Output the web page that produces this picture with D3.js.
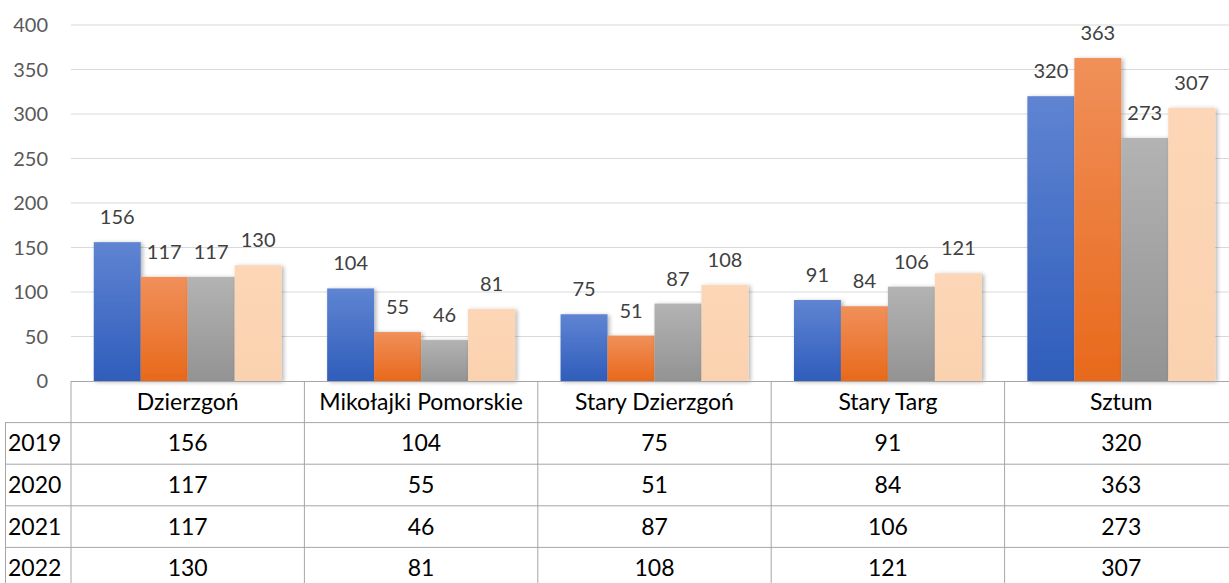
<!DOCTYPE html>
<html><head><meta charset="utf-8">
<script src="https://cdn.jsdelivr.net/npm/d3@7"></script>
<style>body{margin:0;background:#fff}svg{display:block}</style>
</head><body><svg id="c" width="1229" height="583"></svg>
<script>
const categories = ["Dzierzgoń","Mikołajki Pomorskie","Stary Dzierzgoń","Stary Targ","Sztum"];
const years = ["2019","2020","2021","2022"];
const v2019 = [156,104,75,91,320];
const v2020 = [117,55,51,84,363];
const v2021 = [117,46,87,106,273];
const v2022 = [130,81,108,121,307];
const yTicks = [0,50,100,150,200,250,300,350,400];
const series = [v2019,v2020,v2021,v2022];
const colTop = ["#5f84d2","#f0905a","#b3b3b3","#fcd6b6"];
const colBot = ["#2f5dbb","#e8691b","#939393","#fbd2b0"];

const svg = d3.select("#c");
const font = "Lato, 'Liberation Sans', sans-serif";
const pLeft = 71, pRight = 1238, pTop = 25, base = 381;
const x0 = d3.scaleBand().domain(categories).range([pLeft,pRight]).paddingInner(0.195).paddingOuter(0.0975);
const x1 = d3.scaleBand().domain(years).range([0,x0.bandwidth()]);
const y = d3.scaleLinear().domain([0,400]).range([base,pTop]);

const defs = svg.append("defs");
years.forEach((yr,i)=>{
  const g = defs.append("linearGradient").attr("id","g"+i).attr("x1",0).attr("y1",0).attr("x2",0).attr("y2",1);
  g.append("stop").attr("offset","0%").attr("stop-color",colTop[i]);
  g.append("stop").attr("offset","100%").attr("stop-color",colBot[i]);
});
const f = defs.append("filter").attr("id","sh").attr("x","-20%").attr("y","-20%").attr("width","150%").attr("height","150%");
f.append("feDropShadow").attr("dx",2).attr("dy",1).attr("stdDeviation",2).attr("flood-color","#000").attr("flood-opacity",0.3);

svg.append("g").selectAll("line").data(yTicks.filter(t=>t>0)).join("line")
  .attr("x1",pLeft).attr("x2",1229).attr("y1",d=>y(d)).attr("y2",d=>y(d))
  .attr("stroke","#d9d9d9").attr("stroke-width",1);
svg.append("g").selectAll("text").data(yTicks).join("text")
  .attr("x",48).attr("y",d=>y(d)).attr("dy","0.35em").attr("text-anchor","end")
  .attr("font-family",font).attr("font-size",20).attr("fill","#595959").text(d=>d);

const groups = svg.append("g").selectAll("g").data(categories).join("g")
  .attr("transform",c=>`translate(${x0(c)},0)`);
groups.each(function(c,ci){
  const g = d3.select(this);
  years.forEach((yr,si)=>{
    const v = series[si][ci];
    g.append("rect").attr("x",x1(yr)).attr("width",x1.bandwidth()).attr("y",y(v)).attr("height",base-y(v))
      .attr("fill",`url(#g${si})`).attr("filter","url(#sh)");
  });
});
groups.each(function(c,ci){
  const g = d3.select(this);
  years.forEach((yr,si)=>{
    const v = series[si][ci];
    g.append("text").attr("x",x1(yr)+x1.bandwidth()/2).attr("y",y(v)-25).attr("dy","0.35em")
      .attr("text-anchor","middle").attr("font-family",font).attr("font-size",20).attr("fill","#404040").text(v);
  });
});

const rowH = 41.6;
const tb = svg.append("g");
const lc = "#a6a6a6";
tb.append("line").attr("x1",pLeft).attr("x2",1229).attr("y1",base+0.5).attr("y2",base+0.5).attr("stroke",lc);
for(let r=1;r<=4;r++){
  const yy = base + rowH*r;
  tb.append("line").attr("x1",5).attr("x2",1229).attr("y1",yy).attr("y2",yy).attr("stroke",lc);
}
tb.append("line").attr("x1",5.5).attr("x2",5.5).attr("y1",base+rowH).attr("y2",583).attr("stroke",lc);
categories.forEach(c=>{
  const xx = x0(c) - x0.step()*x0.paddingInner()/2;
  tb.append("line").attr("x1",xx).attr("x2",xx).attr("y1",base).attr("y2",583).attr("stroke",lc);
});
const tfs = 23;
categories.forEach(c=>{
  tb.append("text").attr("x",x0(c)+x0.bandwidth()/2).attr("y",base+rowH/2).attr("dy","0.35em")
    .attr("text-anchor","middle").attr("font-family",font).attr("font-size",tfs).attr("fill","#000").text(c);
});
years.forEach((yr,si)=>{
  const yy = base + rowH*(si+1) + rowH/2;
  tb.append("text").attr("x",8).attr("y",yy).attr("dy","0.35em").attr("font-family",font).attr("font-size",tfs).attr("fill","#000").text(yr);
  categories.forEach((c,ci)=>{
    tb.append("text").attr("x",x0(c)+x0.bandwidth()/2).attr("y",yy).attr("dy","0.35em")
      .attr("text-anchor","middle").attr("font-family",font).attr("font-size",tfs).attr("fill","#000").text(series[si][ci]);
  });
});
</script></body></html>
